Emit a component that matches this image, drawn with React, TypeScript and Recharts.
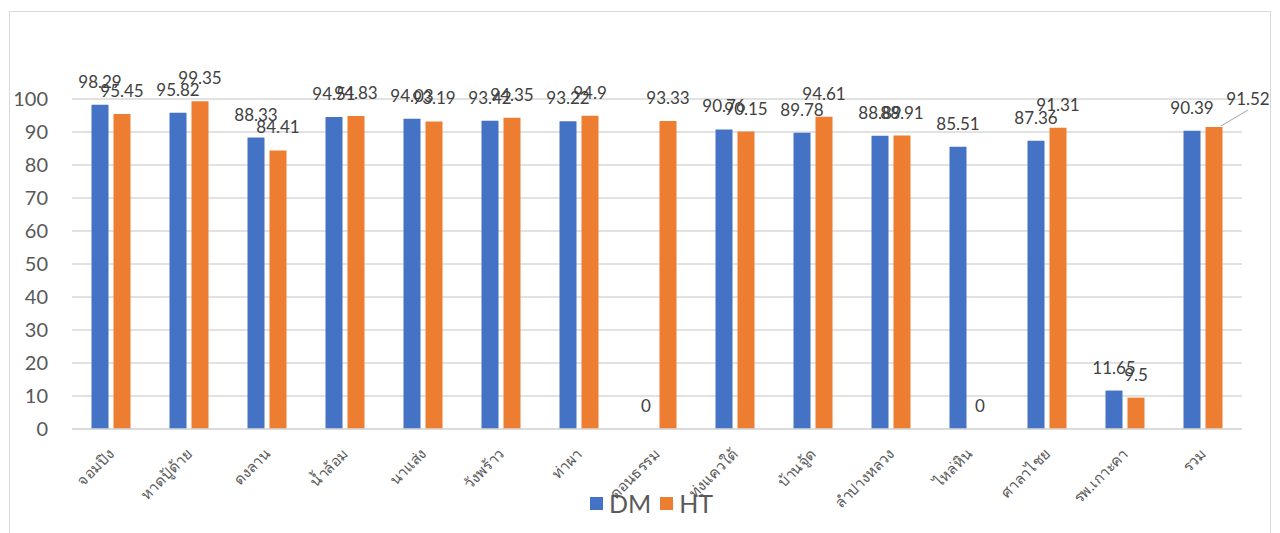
import React from "react";
import { BarChart, Bar, XAxis, YAxis, CartesianGrid } from "recharts";

const categories = [
  "จอมปิง",
  "หาดปู้ด้าย",
  "ดงลาน",
  "น้ำล้อม",
  "นาแส่ง",
  "วังพร้าว",
  "ท่าผา",
  "ดอนธรรม",
  "ทุ่งแควใต้",
  "บ้านจู้ด",
  "ลำปางหลวง",
  "ไหล่หิน",
  "ศาลาไชย",
  "รพ.เกาะคา",
  "รวม",
];
const dmValues = [98.29, 95.82, 88.33, 94.51, 94.03, 93.42, 93.22, 0, 90.76, 89.78, 88.89, 85.51, 87.36, 11.65, 90.39];
const htValues = [95.45, 99.35, 84.41, 94.83, 93.19, 94.35, 94.9, 93.33, 90.15, 94.61, 88.91, 0, 91.31, 9.5, 91.52];
const yTicks = [0, 10, 20, 30, 40, 50, 60, 70, 80, 90, 100];
const seriesNames = ["DM", "HT"];
const seriesColors = ["#4472C4", "#ED7D31"];

const data = categories.map((name, i) => ({ name, DM: dmValues[i], HT: htValues[i] }));

const FONT = "Lato, 'Noto Sans', 'DejaVu Sans', sans-serif";
const TEXT = "#595959";

const XTick = (props: any) => {
  const { x, y, payload } = props;
  const ax = x + 4;
  const ay = y + 18;
  return (
    <text
      x={ax}
      y={ay}
      transform={`rotate(-45 ${ax} ${ay})`}
      textAnchor="end"
      fill={TEXT}
      fontSize={15}
      fontFamily={FONT}
    >
      {payload.value}
    </text>
  );
};

const ValueLabel = (props: any) => {
  const { x, y, width, height, value, index, leader } = props;
  const cx = x + width / 2;
  const top = height < 0 ? y + height : y;
  if (leader && index === categories.length - 1) {
    return (
      <g>
        <line x1={cx + 7} y1={top - 1} x2={cx + 34} y2={top - 17} stroke="#a6a6a6" strokeWidth={1} />
        <text x={cx + 34} y={top - 22} textAnchor="middle" fill="#404040" fontSize={17} fontFamily={FONT}>
          {value}
        </text>
      </g>
    );
  }
  return (
    <text x={cx} y={top - 17} textAnchor="middle" fill="#404040" fontSize={17} fontFamily={FONT}>
      {value}
    </text>
  );
};

export default function App() {
  return (
    <div
      style={{
        position: "relative",
        left: 1,
        top: 3,
        width: 1260,
        height: 540,
        border: "1px solid #d9d9d9",
        background: "#fff",
        fontFamily: FONT,
      }}
    >
      <BarChart
        width={1260}
        height={530}
        data={data}
        margin={{ top: 87, right: 28, bottom: 0, left: 0 }}
        barCategoryGap="25%"
        barGap={5}
      >
        <CartesianGrid vertical={false} stroke="#d9d9d9" strokeWidth={1.5} />
        <XAxis
          dataKey="name"
          interval={0}
          tick={<XTick />}
          tickLine={false}
          axisLine={{ stroke: "#d9d9d9", strokeWidth: 1.5 }}
          height={113}
        />
        <YAxis
          domain={[0, 100]}
          ticks={yTicks}
          interval={0}
          width={62}
          tickLine={false}
          axisLine={false}
          tickMargin={18}
          tick={{ fill: TEXT, fontSize: 20, fontFamily: FONT }}
        />
        <Bar dataKey="DM" fill={seriesColors[0]} minPointSize={0.01} isAnimationActive={false} label={<ValueLabel />} />
        <Bar dataKey="HT" fill={seriesColors[1]} minPointSize={0.01} isAnimationActive={false} label={<ValueLabel leader />} />
      </BarChart>
      <div
        style={{
          position: "absolute",
          top: 476,
          left: 580,
          display: "flex",
          gap: 9,
          fontSize: 25,
          color: TEXT,
          lineHeight: "30px",
        }}
      >
        {seriesNames.map((n, i) => (
          <div key={n} style={{ display: "flex", alignItems: "center", gap: 6 }}>
            <span style={{ display: "inline-block", width: 13, height: 13, background: seriesColors[i] }} />
            <span>{n}</span>
          </div>
        ))}
      </div>
    </div>
  );
}
